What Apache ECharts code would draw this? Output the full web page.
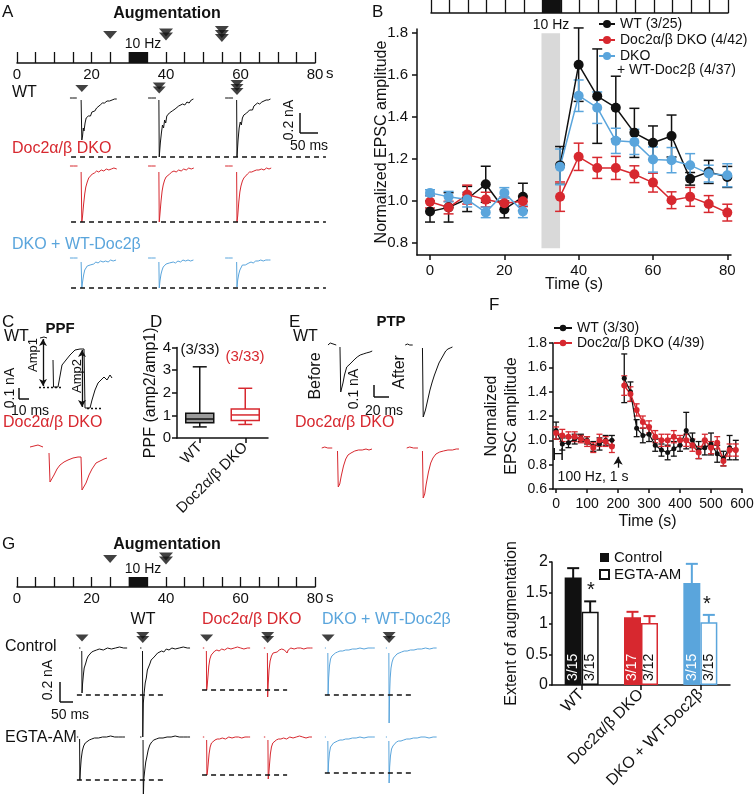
<!DOCTYPE html>
<html><head><meta charset="utf-8">
<script src="https://cdn.jsdelivr.net/npm/echarts@6/dist/echarts.min.js"></script>
<style>html,body{margin:0;padding:0;background:#fff}#c{width:755px;height:794px}</style>
</head><body><div id="c"></div>
<script>
// ================= DATA =================
// Panel B
const bTimes = [0,5,10,15,20,25,30,35,40,45,50,55,60,65,70,75,80];
const bWT     = [0.95,0.97,1.01,1.08,0.96,1.02,null,1.17,1.65,1.50,1.445,1.325,1.278,1.31,1.106,1.139,1.115];
const bWTerr  = [0.05,0.07,0.06,0.086,0.04,0.065,null,0.09,0.175,0.225,0.15,0.117,0.08,0.1,0.03,0.055,0.05];
const bDKO    = [0.997,0.969,1.031,1.007,0.99,0.999,null,1.021,1.211,1.158,1.158,1.128,1.088,1.004,1.02,0.986,0.945];
const bDKOerr = [0.03,0.03,0.045,0.035,0.03,0.025,null,0.07,0.065,0.05,0.055,0.04,0.045,0.04,0.045,0.04,0.04];
const bRes    = [1.039,1.021,1.007,0.946,1.039,0.951,null,1.163,1.502,1.445,1.287,1.282,1.198,1.195,1.171,1.131,1.123];
const bResErr = [0.015,0.025,0.035,0.025,0.025,0.03,null,0.085,0.075,0.075,0.06,0.06,0.06,0.06,0.055,0.04,0.055];
const bXTicks = [0,20,40,60,80];
const bYTicks = [0.8,1.0,1.2,1.4,1.6,1.8];
// Panel F
const fTimes = [0,20,40,60,80,100,120,140,160,180,200,220,240,260,280,300,320,340,360,380,400,420,440,460,480,500,520,540,560,580];
const fWT     = [1.08,0.97,0.98,1.01,1.02,1.0,0.95,0.97,1.0,1.0,null,1.51,1.40,1.10,1.04,1.05,0.96,0.92,0.90,0.93,0.96,1.08,1.0,0.92,0.94,0.97,0.89,0.85,0.94,0.92];
const fWTerr  = [0.07,0.05,0.04,0.04,0.03,0.03,0.04,0.05,0.04,0.04,null,0.2,0.08,0.07,0.06,0.06,0.05,0.05,0.06,0.06,0.05,0.15,0.06,0.07,0.06,0.09,0.07,0.06,0.1,0.08];
const fDKO    = [1.06,1.04,1.03,1.03,1.01,0.99,0.94,1.0,0.99,0.95,null,1.45,1.38,1.25,1.15,1.11,1.03,1.0,1.0,1.03,1.0,1.0,0.96,0.9,1.0,0.94,0.98,0.83,0.92,0.92];
const fDKOerr = [0.05,0.05,0.04,0.04,0.03,0.04,0.04,0.05,0.04,0.05,null,0.08,0.06,0.05,0.05,0.05,0.05,0.05,0.05,0.05,0.04,0.05,0.05,0.05,0.05,0.05,0.05,0.04,0.05,0.05];
const fXTicks = [0,100,200,300,400,500,600];
// Panel D
const dCats = ['WT','Doc2α/β DKO'];
const dBox  = [[0.49,0.67,0.84,1.10,3.15],[0.60,0.77,1.02,1.28,2.20]];
const dN    = ['(3/33)','(3/33)'];
// Panel H
const hCats = ['WT','Doc2α/β DKO','DKO + WT-Doc2β'];
const hControl = [1.75,1.10,1.66];
const hControlErr = [0.15,0.09,0.31];
const hEGTA = [1.19,1.01,1.02];
const hEGTAerr = [0.17,0.11,0.12];
const hControlN = ['3/15','3/17','3/15'];
const hEGTAN = ['3/15','3/12','3/15'];
// Stimulus timelines
const stimTrain = [30,35];
const augMarksA = [[25,1],[40,2],[55,3]];
const augMarksG = [[25,1],[40,2]];
// Traces: [time ms, current nA relative to baseline]; '-' = blanked artefact
const aWT1 = [[0,0],[4,0.01],[8,0],[13,0.01],[19,0],[22,'-'],[31,-0.02],[33,-0.42],[35,-0.38],[37,-0.3],[39,-0.33],[42,-0.25],[45,-0.2],[48,-0.22],[51,-0.18],[54,-0.16],[57,-0.18],[61,-0.14],[65,-0.12],[69,-0.13],[74,-0.1],[79,-0.08],[84,-0.07],[90,-0.05],[96,-0.05],[103,-0.03],[110,-0.03],[117,-0.02],[124,-0.01],[130,-0.01]];
const aWT2 = [[0,0],[5,0.01],[10,0],[15,0.01],[22,0],[24,'-'],[30,-0.02],[31,-0.59],[34,-0.45],[37,-0.35],[40,-0.27],[43,-0.3],[46,-0.22],[49,-0.25],[52,-0.18],[55,-0.2],[59,-0.15],[63,-0.17],[67,-0.13],[71,-0.14],[75,-0.11],[80,-0.12],[85,-0.08],[90,-0.09],[96,-0.06],[102,-0.07],[108,-0.04],[114,-0.05],[120,-0.02],[126,-0.01]];
const aWT3 = [[0,0],[5,0.01],[10,0],[15,0.01],[22,0],[25,'-'],[32,-0.02],[33,-0.59],[36,-0.42],[39,-0.3],[42,-0.24],[45,-0.27],[48,-0.2],[52,-0.17],[56,-0.19],[60,-0.15],[64,-0.16],[68,-0.12],[72,-0.1],[76,-0.12],[80,-0.08],[85,-0.07],[90,-0.05],[96,-0.06],[102,-0.04],[108,-0.03],[114,-0.02],[120,-0.02],[126,-0.01]];
const aDKO1 = [[0,0],[5,0.01],[10,0],[15,0.01],[21,0],[24,'-'],[31,-0.06],[33,-0.56],[35,-0.5],[38,-0.38],[41,-0.28],[44,-0.21],[48,-0.16],[52,-0.12],[57,-0.1],[62,-0.08],[68,-0.07],[74,-0.05],[80,-0.06],[87,-0.04],[94,-0.05],[101,-0.03],[108,-0.04],[115,-0.03],[122,-0.02],[130,-0.03]];
const aDKO2 = [[0,0],[5,0.01],[10,0],[15,0.01],[21,0],[24,'-'],[30,-0.06],[31,-0.56],[33,-0.48],[36,-0.35],[39,-0.25],[42,-0.19],[46,-0.14],[50,-0.11],[55,-0.09],[60,-0.08],[66,-0.06],[72,-0.05],[78,-0.06],[85,-0.04],[92,-0.05],[99,-0.03],[106,-0.04],[113,-0.02],[120,-0.03],[127,-0.02]];
const aDKO3 = [[0,0],[5,0.01],[10,0],[15,0.01],[21,0],[24,'-'],[32,-0.06],[33,-0.56],[35,-0.5],[38,-0.36],[41,-0.26],[44,-0.2],[48,-0.15],[52,-0.12],[57,-0.1],[62,-0.08],[68,-0.06],[74,-0.06],[80,-0.05],[87,-0.04],[94,-0.04],[101,-0.03],[108,-0.04],[115,-0.02],[122,-0.03],[128,-0.02]];
const aRes1 = [[0,0],[5,0.01],[10,0],[15,0.01],[21,0],[24,'-'],[31,-0.04],[33,-0.30],[35,-0.24],[38,-0.17],[41,-0.12],[44,-0.1],[48,-0.08],[52,-0.06],[56,-0.07],[61,-0.05],[66,-0.06],[72,-0.04],[78,-0.05],[85,-0.03],[92,-0.04],[99,-0.03],[106,-0.04],[113,-0.02],[120,-0.03],[128,-0.02]];
const aRes2 = [[0,0],[5,0.01],[10,0],[15,0.01],[21,0],[24,'-'],[30,-0.04],[31,-0.30],[33,-0.23],[36,-0.16],[39,-0.12],[42,-0.09],[46,-0.08],[50,-0.06],[54,-0.07],[59,-0.05],[64,-0.06],[70,-0.04],[76,-0.05],[83,-0.03],[90,-0.04],[97,-0.02],[104,-0.03],[111,-0.02],[118,-0.03],[126,-0.02]];
const aRes3 = [[0,0],[5,0.01],[10,0],[15,0.01],[21,0],[24,'-'],[32,-0.04],[33,-0.29],[35,-0.22],[38,-0.16],[41,-0.12],[44,-0.1],[48,-0.07],[52,-0.06],[56,-0.07],[61,-0.05],[66,-0.05],[72,-0.04],[78,-0.05],[85,-0.03],[92,-0.03],[99,-0.02],[106,-0.03],[113,-0.02],[120,-0.02],[126,-0.02]];
const cWT  = [[4,0],[8,0.01],[11,0],[13,'-'],[17,-0.22],[17.5,-0.49],[22,-0.49],[24,-0.38],[26,-0.27],[30,-0.22],[34,-0.17],[39,-0.12],[44,-0.11],[48,-0.11],[49,-0.7],[54,-0.7],[56,-0.62],[59,-0.52],[62,-0.45],[65,-0.42],[68,-0.39],[71,-0.42],[74,-0.37],[76,-0.4]];
const cDKO = [[2,0],[6,0.01],[10,0.02],[15,0],[17,'-'],[21,-0.06],[22,-0.35],[24,-0.34],[26,-0.28],[29,-0.22],[32,-0.18],[36,-0.15],[40,-0.13],[45,-0.11],[50,-0.1],[53,-0.1],[54,-0.43],[56,-0.42],[58,-0.36],[61,-0.28],[64,-0.22],[68,-0.16],[72,-0.14],[76,-0.12],[79,-0.11]];
const eWTb  = [[4,0],[7,0.02],[9,0],[15,0],[17,'-'],[20,-0.02],[21,-0.47],[24,-0.38],[26,-0.3],[29,-0.22],[32,-0.2],[36,-0.17],[40,-0.14],[43,-0.12],[47,-0.1],[51,-0.09],[55,-0.08],[60,-0.07],[63,-0.06]];
const eWTa  = [[7,0],[10,0.01],[13,0],[17,0],[20,'-'],[30,-0.03],[31,-0.72],[34,-0.65],[37,-0.55],[40,-0.45],[43,-0.37],[46,-0.3],[49,-0.24],[52,-0.18],[55,-0.14],[58,-0.1],[61,-0.06],[64,-0.04],[67,-0.03],[70,-0.02]];
const eDKOb = [[5,0],[9,0.01],[13,0],[19,0],[21,'-'],[26,-0.03],[27,-0.39],[29,-0.36],[31,-0.28],[34,-0.18],[37,-0.11],[40,-0.07],[44,-0.05],[49,-0.03],[54,-0.02],[59,-0.02],[64,-0.01],[68,-0.02],[72,-0.01]];
const eDKOa = [[9,0],[13,0.01],[18,0],[24,0],[26,'-'],[30,-0.03],[31,-0.50],[33,-0.46],[35,-0.36],[38,-0.24],[41,-0.15],[44,-0.1],[48,-0.06],[53,-0.04],[58,-0.03],[64,-0.02],[70,-0.02],[75,-0.01],[80,-0.01]];
const gWTc1 = [[0,0],[5,0],[7,'-'],[10,-0.03],[11,-0.45],[13,-0.36],[16,-0.27],[19,-0.2],[22,-0.22],[25,-0.15],[29,-0.11],[34,-0.08],[40,-0.06],[47,-0.04],[55,-0.03],[65,-0.02],[75,-0.01],[90,-0.02],[105,0],[120,-0.01],[135,0],[150,0.01],[165,0],[178,0]];
const gWTc2 = [[0,0],[5,0],[7,'-'],[9,-0.03],[10,-0.89],[12,-0.55],[15,-0.45],[19,-0.35],[23,-0.3],[27,-0.22],[31,-0.2],[36,-0.16],[41,-0.12],[46,-0.14],[52,-0.09],[58,-0.1],[65,-0.05],[72,-0.07],[80,-0.03],[88,-0.04],[97,-0.01],[107,-0.02],[118,0],[130,-0.01],[145,0],[160,0.01],[175,0],[185,0]];
const gWTe1 = [[0,0],[5,0],[7,'-'],[10,-0.02],[11,-0.43],[13,-0.33],[16,-0.22],[20,-0.14],[25,-0.09],[31,-0.06],[38,-0.04],[46,-0.03],[55,-0.02],[65,-0.01],[80,-0.01],[95,0],[110,0],[125,0.01],[140,0],[155,0],[170,0],[178,0]];
const gWTe2 = [[0,0],[5,0],[7,'-'],[11,-0.03],[12,-0.62],[14,-0.42],[17,-0.34],[21,-0.25],[25,-0.2],[30,-0.13],[36,-0.08],[43,-0.05],[51,-0.03],[60,-0.02],[70,-0.01],[85,-0.01],[100,0],[115,0],[130,0.01],[145,0],[160,0],[175,0],[185,0]];
const gDKOc1 = [[0,0],[5,0],[7,'-'],[13,-0.03],[14,-0.42],[16,-0.38],[19,-0.28],[22,-0.18],[26,-0.11],[31,-0.07],[37,-0.05],[44,-0.03],[52,-0.02],[60,-0.03],[70,-0.01],[80,-0.02],[92,0],[104,-0.01],[116,0],[128,0.01],[140,0],[152,-0.01],[165,0],[175,0]];
const gDKOc2 = [[0,0],[5,0],[7,'-'],[13,-0.05],[14,-0.49],[16,-0.36],[19,-0.22],[23,-0.13],[28,-0.08],[34,-0.05],[41,-0.03],[49,-0.04],[57,-0.02],[66,-0.01],[76,-0.02],[86,-0.05],[90,-0.02],[100,0],[112,-0.01],[124,0],[136,0],[148,-0.01],[160,0],[172,0],[180,0]];
const gDKOe1 = [[0,0],[5,0],[7,'-'],[14,-0.03],[15,-0.38],[17,-0.35],[20,-0.26],[23,-0.17],[27,-0.1],[32,-0.06],[38,-0.04],[45,-0.03],[53,-0.02],[62,-0.02],[72,-0.01],[84,-0.02],[96,0],[108,-0.01],[120,0],[132,0],[144,-0.01],[156,0],[168,0],[175,0]];
const gDKOe2 = [[0,0],[5,0],[7,'-'],[15,-0.03],[16,-0.42],[18,-0.38],[21,-0.27],[24,-0.17],[28,-0.1],[33,-0.06],[39,-0.04],[46,-0.03],[54,-0.02],[63,-0.02],[73,-0.01],[84,-0.02],[96,0],[108,-0.01],[120,0],[132,0.01],[144,0],[156,-0.01],[168,0],[178,0]];
const gResc1 = [[0,0],[4,0],[6,'-'],[11,-0.05],[12,-0.47],[14,-0.3],[17,-0.18],[21,-0.11],[26,-0.08],[32,-0.06],[39,-0.05],[47,-0.04],[56,-0.03],[66,-0.03],[77,-0.02],[89,-0.02],[102,-0.01],[116,-0.01],[130,0],[145,-0.01],[160,0],[175,0],[185,0]];
const gResc2 = [[0,0],[4,0],[6,'-'],[11,-0.05],[12,-0.75],[14,-0.45],[16,-0.3],[19,-0.2],[23,-0.14],[28,-0.1],[34,-0.08],[41,-0.06],[49,-0.05],[58,-0.04],[68,-0.03],[79,-0.03],[91,-0.02],[104,-0.02],[118,-0.01],[132,-0.01],[147,0],[162,-0.01],[177,0],[188,0]];
const gRese1 = [[0,0],[4,0],[6,'-'],[11,-0.04],[12,-0.36],[14,-0.25],[17,-0.16],[21,-0.1],[26,-0.08],[32,-0.06],[39,-0.05],[47,-0.04],[56,-0.03],[66,-0.03],[77,-0.02],[89,-0.02],[102,-0.01],[116,-0.01],[130,0],[145,-0.01],[160,0],[175,0],[185,0]];
const gRese2 = [[0,0],[4,0],[6,'-'],[11,-0.04],[12,-0.46],[14,-0.3],[17,-0.19],[21,-0.12],[26,-0.09],[32,-0.07],[39,-0.05],[47,-0.04],[56,-0.04],[66,-0.03],[77,-0.02],[89,-0.02],[102,-0.01],[116,-0.01],[130,0],[145,0],[160,-0.01],[175,0],[188,0]];

// ================= STYLE / LAYOUT =================
const RED='#d7282f', BLUE='#5aa5dc', BLK='#111111';
const FONT='"Liberation Sans", Arial, Helvetica, sans-serif';
const grid=[], xAxis=[], yAxis=[], series=[], graphic=[], legend=[];

function addAxes(g, xa, ya){
  grid.push(Object.assign({outerBoundsMode:'none', containLabel:false}, g));
  const i = grid.length-1;
  xAxis.push(Object.assign({gridIndex:i}, xa));
  yAxis.push(Object.assign({gridIndex:i}, ya));
  return i;
}
function hiddenAxes(g, xr, yr){
  return addAxes(g, {type:'value', min:xr[0], max:xr[1], show:false}, {type:'value', min:yr[0], max:yr[1], show:false});
}
const axLine = {show:true, onZero:false, lineStyle:{color:BLK, width:1.5}};
const axTick = {show:true, length:5, lineStyle:{color:BLK, width:1.5}};
function txt(x,y,text,o){ o=o||{}; graphic.push({type:'text', x, y, rotation:o.rot||0, silent:true, z:50,
  style:{text, fill:o.color||BLK, fontSize:o.size||16, fontFamily:FONT, fontWeight:o.bold?'bold':'normal', align:o.align||'left', verticalAlign:o.va||'middle'}}); }
function ln(x1,y1,x2,y2,o){ o=o||{}; graphic.push({type:'line', silent:true, z:50, shape:{x1,y1,x2,y2}, style:{stroke:o.color||BLK, lineWidth:o.w||1.5, lineDash:o.dash||null}}); }

function arrowPoints(marks, baseY, step, drop){
  const pts=[];
  marks.forEach(([t,n])=>{ const b = baseY - (n-1)*drop; for(let k=0;k<n;k++) pts.push([t, b + k*step]); });
  return pts;
}
function arrowSeries(gi, pts, size){
  return {type:'scatter', xAxisIndex:gi, yAxisIndex:gi, symbol:'triangle', symbolRotate:180, symbolSize:size||[13,7],
    itemStyle:{color:BLK}, silent:true, z:5, data:pts};
}

// ---- stimulus timelines ----
function addTimeline(left, baseY, width, h, tickLen, marks, showLabels){
  const gi = addAxes({left, top:baseY-h, width, height:h},
    {type:'value', min:0, max:80, interval:5,
     axisLine:{show:true, lineStyle:{color:BLK, width:1.5}},
     axisTick:{show:true, inside:true, length:tickLen, lineStyle:{color:BLK, width:1.3}},
     axisLabel:{show:showLabels, margin:4, fontSize:15, color:BLK, fontFamily:FONT, formatter:v=> (v%20===0)? String(v):''},
     splitLine:{show:false}},
    {type:'value', min:0, max:h, show:false});
  series.push({type:'scatter', xAxisIndex:gi, yAxisIndex:gi, symbol:'triangle', symbolRotate:180, symbolSize:[14,8],
    itemStyle:{color:BLK}, silent:true, data: arrowPoints(marks, 28, 4, 1.5),
    markArea:{silent:true, itemStyle:{color:BLK}, data:[[{xAxis:stimTrain[0], yAxis:0},{xAxis:stimTrain[1], yAxis:tickLen}]]}});
  return gi;
}
addTimeline(17, 63, 298, 45, 11, augMarksA, true);
addTimeline(431, 13, 297, 16, 15, [], false);
addTimeline(17, 587, 298, 40, 10, augMarksG, true);

// ---- trace panels ----
function dashSeries(gi, t1, t2, y){
  return {type:'line', xAxisIndex:gi, yAxisIndex:gi, data:[], silent:true,
    markLine:{silent:true, symbol:['none','none'], label:{show:false}, lineStyle:{type:[5,4], color:BLK, width:1.5}, data:[[{coord:[t1,y]},{coord:[t2,y]}]]}};
}
function traceSeries(gi, tr, off, color){
  return {type:'line', xAxisIndex:gi, yAxisIndex:gi, silent:true, showSymbol:false, symbol:'none', connectNulls:false,
    lineStyle:{width:1, color}, itemStyle:{color},
    data: tr.map(p=>[p[0]+off, p[1]])};
}
const traceLayout = [
  // A: 0.36 px/ms, 100 px/nA
  {g:{left:66, top:80, width:262, height:90}, x:[0,727.8], y:[-0.72,0.18], color:BLK, tr:[[aWT1,11],[aWT2,228],[aWT3,442]], dash:[14,722,-0.59], marks:[[44,1],[259,2],[475,3]], mY:0.095},
  {g:{left:66, top:150, width:262, height:85}, x:[0,727.8], y:[-0.69,0.16], color:RED, tr:[[aDKO1,11],[aDKO2,228],[aDKO3,442]], dash:[14,722,-0.56]},
  {g:{left:66, top:245, width:262, height:55}, x:[0,727.8], y:[-0.42,0.13], color:BLUE, tr:[[aRes1,11],[aRes2,228],[aRes3,442]], dash:[14,722,-0.30]},
  // C: 1 px/ms
  {g:{left:36, top:325, width:84, height:95}, x:[0,84], y:[-0.82,0.13], color:BLK, tr:[[cWT,0]], amps:true},
  {g:{left:28, top:440, width:90, height:60}, x:[0,90], y:[-0.53,0.07], color:RED, tr:[[cDKO,0]]},
  // E: 0.75 px/ms
  {g:{left:318, top:335, width:140, height:90}, x:[0,186.7], y:[-0.80,0.10], color:BLK, tr:[[eWTb,9.3],[eWTa,109.3]]},
  {g:{left:318, top:438, width:140, height:80}, x:[0,186.7], y:[-0.70,0.10], color:RED, tr:[[eDKOb,0],[eDKOa,109.3]]},
  // G: 0.27 px/ms
  {g:{left:75, top:625, width:120, height:120}, x:[0,444.4], y:[-0.97,0.23], color:BLK, tr:[[gWTc1,15],[gWTc2,241]], dash:[7,326,-0.47], marks:[[26,1],[251,2]], mY:0.10},
  {g:{left:75, top:715, width:120, height:79}, x:[0,444.4], y:[-0.57,0.22], color:BLK, tr:[[gWTe1,7],[gWTe2,241]], dash:[7,326,-0.43]},
  {g:{left:198, top:625, width:120, height:120}, x:[0,444.4], y:[-0.97,0.23], color:RED, tr:[[gDKOc1,18],[gDKOc2,244]], dash:[15,330,-0.42], marks:[[32,1],[258,2]], mY:0.10},
  {g:{left:198, top:715, width:120, height:79}, x:[0,444.4], y:[-0.57,0.22], color:RED, tr:[[gDKOe1,18],[gDKOe2,244]], dash:[15,330,-0.38]},
  {g:{left:320, top:625, width:125, height:120}, x:[0,463], y:[-0.97,0.23], color:BLUE, tr:[[gResc1,18],[gResc2,244]], dash:[18,341,-0.47], marks:[[30,1],[256,2]], mY:0.10},
  {g:{left:320, top:715, width:125, height:79}, x:[0,463], y:[-0.57,0.22], color:BLUE, tr:[[gRese1,18],[gRese2,244]], dash:[18,341,-0.36]}
];
traceLayout.forEach(L=>{
  const gi = hiddenAxes(L.g, L.x, L.y);
  if (L.dash) series.push(dashSeries(gi, L.dash[0], L.dash[1], L.dash[2]));
  L.tr.forEach(([tr,off])=> series.push(traceSeries(gi, tr, off, L.color)));
  if (L.marks) series.push(arrowSeries(gi, arrowPoints(L.marks, L.mY, 0.04, 0.015)));
  if (L.amps) {
    series.push({type:'line', xAxisIndex:gi, yAxisIndex:gi, data:[], silent:true,
      markLine:{silent:true, label:{show:false}, symbol:['arrow','arrow'], symbolSize:[6,7], lineStyle:{type:'solid', color:BLK, width:1.3},
        data:[[{coord:[7,-0.01]},{coord:[7,-0.48]}],[{coord:[46,-0.12]},{coord:[46,-0.69]}]]}});
    series.push({type:'line', xAxisIndex:gi, yAxisIndex:gi, data:[], silent:true,
      markLine:{silent:true, label:{show:false}, symbol:['none','none'], lineStyle:{type:[2,2], color:BLK, width:1.3},
        data:[[{coord:[3,-0.49]},{coord:[26,-0.49]}],[{coord:[51,-0.70]},{coord:[67,-0.70]}]]}});
  }
});

// ---- error bar helper ----
function errSeries(gi, xs, ys, es, color, cap, lw, xOff){
  const data=[];
  xs.forEach((x,i)=>{ if(ys[i]==null) return; data.push([x, ys[i]-es[i], ys[i]+es[i]]); });
  return {type:'custom', xAxisIndex:gi, yAxisIndex:gi, silent:true, data, encode:{x:0, y:[1,2]},
    renderItem:(p, api)=>{
      const lo=api.coord([api.value(0), api.value(1)]), hi=api.coord([api.value(0), api.value(2)]);
      const x=lo[0]+(xOff||0), st={stroke:color, lineWidth:lw};
      return {type:'group', children:[
        {type:'line', shape:{x1:x,y1:lo[1],x2:x,y2:hi[1]}, style:st},
        {type:'line', shape:{x1:x-cap/2,y1:hi[1],x2:x+cap/2,y2:hi[1]}, style:st},
        {type:'line', shape:{x1:x-cap/2,y1:lo[1],x2:x+cap/2,y2:lo[1]}, style:st}]};
    }};
}
const toLine = (xs, ys)=> xs.map((x,i)=>[x, ys[i]==null?'-':ys[i]]);

// ---- Panel B ----
const gB = addAxes({left:417, top:29, width:314, height:226},
  {type:'value', min:-3.5, max:81, axisLine:axLine, axisTick:Object.assign({customValues:bXTicks}, axTick),
   axisLabel:{customValues:bXTicks, fontSize:15, color:BLK, margin:8, fontFamily:FONT}, splitLine:{show:false},
   name:'Time (s)', nameLocation:'middle', nameGap:22, nameMoveOverlap:false, nameTextStyle:{fontSize:16, color:BLK, fontFamily:FONT}},
  {type:'value', min:0.743, max:1.82, axisLine:axLine, axisTick:Object.assign({customValues:bYTicks}, axTick),
   axisLabel:{customValues:bYTicks, fontSize:15, color:BLK, margin:9, fontFamily:FONT, formatter:v=>v.toFixed(1)}, splitLine:{show:false},
   name:'Normalized EPSC amplitude', nameLocation:'middle', nameGap:27, nameMoveOverlap:false, nameTextStyle:{fontSize:16, color:BLK, fontFamily:FONT}});
series.push(Object.assign(errSeries(gB, bTimes, bWT, bWTerr, BLK, 10, 1.5), {
  markArea:{silent:true, itemStyle:{color:'#d9d9d9'}, data:[[{xAxis:stimTrain[0], yAxis:0.775},{xAxis:stimTrain[1], yAxis:1.8}]]}}));
series.push({type:'line', name:'WT (3/25)', xAxisIndex:gB, yAxisIndex:gB, data:toLine(bTimes,bWT), symbol:'circle', symbolSize:10, lineStyle:{width:1.5, color:BLK}, itemStyle:{color:BLK}});
series.push(errSeries(gB, bTimes, bDKO, bDKOerr, RED, 10, 1.5));
series.push({type:'line', name:'Doc2α/β DKO (4/42)', xAxisIndex:gB, yAxisIndex:gB, data:toLine(bTimes,bDKO), symbol:'circle', symbolSize:10, lineStyle:{width:1.5, color:RED}, itemStyle:{color:RED}});
series.push(errSeries(gB, bTimes, bRes, bResErr, BLUE, 10, 1.5));
series.push({type:'line', name:'DKO', xAxisIndex:gB, yAxisIndex:gB, data:toLine(bTimes,bRes), symbol:'circle', symbolSize:10, lineStyle:{width:1.5, color:BLUE}, itemStyle:{color:BLUE}});
legend.push({left:598, top:17, padding:0, orient:'vertical', itemWidth:16, itemHeight:10, itemGap:2, selectedMode:false,
  textStyle:{fontSize:14, color:BLK, fontFamily:FONT}, data:['WT (3/25)','Doc2α/β DKO (4/42)','DKO']});

// ---- Panel F ----
const gF = addAxes({left:553, top:343, width:189, height:146},
  {type:'value', min:-10, max:600, axisLine:axLine, axisTick:Object.assign({customValues:fXTicks}, axTick, {length:4}),
   axisLabel:{customValues:fXTicks, fontSize:14, color:BLK, margin:8, fontFamily:FONT}, splitLine:{show:false},
   name:'Time (s)', nameLocation:'middle', nameGap:25, nameMoveOverlap:false, nameTextStyle:{fontSize:16, color:BLK, fontFamily:FONT}},
  {type:'value', min:0.6, max:1.8, interval:0.2, axisLine:axLine, axisTick:Object.assign({}, axTick, {length:4}),
   axisLabel:{fontSize:14, color:BLK, margin:6, fontFamily:FONT, formatter:v=>v.toFixed(1)}, splitLine:{show:false},
   name:'Normalized\nEPSC amplitude', nameLocation:'middle', nameGap:31, nameMoveOverlap:false, nameTextStyle:{fontSize:16, lineHeight:20, color:BLK, fontFamily:FONT}});
series.push(Object.assign(errSeries(gF, fTimes, fWT, fWTerr, BLK, 6, 1.3), {
  markLine:{silent:true, label:{show:false}, symbol:['none','arrow'], symbolSize:[7,8], lineStyle:{type:'solid', color:BLK, width:1.3},
    data:[[{coord:[200,0.775]},{coord:[200,0.865]}]]}}));
series.push({type:'line', name:'WT (3/30)', xAxisIndex:gF, yAxisIndex:gF, data:toLine(fTimes,fWT), symbol:'circle', symbolSize:5, lineStyle:{width:1.2, color:BLK}, itemStyle:{color:BLK}});
series.push(errSeries(gF, fTimes, fDKO, fDKOerr, RED, 6, 1.3));
series.push({type:'line', name:'Doc2α/β DKO (4/39)', xAxisIndex:gF, yAxisIndex:gF, data:toLine(fTimes,fDKO), symbol:'circle', symbolSize:6, lineStyle:{width:1.5, color:RED}, itemStyle:{color:RED}});
legend.push({left:553, top:321, padding:0, orient:'vertical', itemWidth:18, itemHeight:8, itemGap:1, selectedMode:false,
  textStyle:{fontSize:14, color:BLK, fontFamily:FONT}, data:['WT (3/30)','Doc2α/β DKO (4/39)']});

// ---- Panel D ----
const gD = addAxes({left:177, top:347.6, width:91, height:90.4},
  {type:'category', data:dCats, axisLine:axLine, axisTick:Object.assign({alignWithLabel:true}, axTick),
   axisLabel:{rotate:45, interval:0, fontSize:15, color:BLK, margin:7, fontFamily:FONT}},
  {type:'value', min:0, max:4, interval:1, axisLine:axLine, axisTick:axTick,
   axisLabel:{fontSize:15, color:BLK, margin:6, fontFamily:FONT}, splitLine:{show:false},
   name:'PPF (amp2/amp1)', nameLocation:'middle', nameGap:18, nameMoveOverlap:false, nameTextStyle:{fontSize:16, color:BLK, fontFamily:FONT}});
const dStyle = [{fill:'#9b9b9b', stroke:BLK}, {fill:'#ffffff', stroke:RED}];
series.push({type:'custom', xAxisIndex:gD, yAxisIndex:gD, silent:true,
  data: dBox.map((b,i)=>[i].concat(b)), encode:{x:0, y:[1,2,3,4,5]},
  renderItem:(p, api)=>{
    const i=api.value(0), c=(v)=>api.coord([i, v]);
    const mn=c(api.value(1)), q1=c(api.value(2)), md=c(api.value(3)), q3=c(api.value(4)), mx=c(api.value(5));
    const x=mn[0], w=28, cw=14, s=dStyle[p.dataIndex];
    const st={stroke:s.stroke, lineWidth:1.5, fill:null};
    return {type:'group', children:[
      {type:'line', shape:{x1:x,y1:mx[1],x2:x,y2:q3[1]}, style:st},
      {type:'line', shape:{x1:x,y1:q1[1],x2:x,y2:mn[1]}, style:st},
      {type:'line', shape:{x1:x-cw/2,y1:mx[1],x2:x+cw/2,y2:mx[1]}, style:st},
      {type:'line', shape:{x1:x-cw/2,y1:mn[1],x2:x+cw/2,y2:mn[1]}, style:st},
      {type:'rect', shape:{x:x-w/2, y:q3[1], width:w, height:q1[1]-q3[1]}, style:{fill:s.fill, stroke:s.stroke, lineWidth:1.5}},
      {type:'line', shape:{x1:x-w/2,y1:md[1],x2:x+w/2,y2:md[1]}, style:st}]};
  }});

// ---- Panel H ----
const gH = addAxes({left:552, top:562, width:178, height:123},
  {type:'category', data:hCats, axisLine:axLine, axisTick:Object.assign({alignWithLabel:true}, axTick),
   axisLabel:{rotate:45, interval:0, fontSize:16, color:BLK, margin:7, fontFamily:FONT}},
  {type:'value', min:0, max:2, interval:0.5, axisLine:axLine, axisTick:Object.assign({}, axTick, {length:3}),
   axisLabel:{fontSize:16, color:BLK, margin:4, fontFamily:FONT}, splitLine:{show:false},
   name:'Extent of augmentation', nameLocation:'middle', nameGap:32, nameMoveOverlap:false, nameTextStyle:{fontSize:16, color:BLK, fontFamily:FONT}});
const hCol = [BLK, RED, BLUE];
series.push({type:'bar', name:'Control', xAxisIndex:gH, yAxisIndex:gH, barWidth:17, barGap:'0%',
  itemStyle:{color:BLK},
  label:{show:true, position:'insideBottom', rotate:90, align:'left', verticalAlign:'middle', distance:4, fontSize:14, color:'#fff', fontFamily:FONT,
    formatter:p=>hControlN[p.dataIndex]},
  data: hControl.map((v,i)=>({value:v, itemStyle:{color:hCol[i]}}))});
series.push({type:'bar', name:'EGTA-AM', xAxisIndex:gH, yAxisIndex:gH, barWidth:17, barGap:'0%',
  itemStyle:{color:'#fff', borderColor:BLK, borderWidth:1.5},
  label:{show:true, position:'insideBottom', rotate:90, align:'left', verticalAlign:'middle', distance:4, fontSize:14, color:BLK, fontFamily:FONT,
    formatter:p=>hEGTAN[p.dataIndex]},
  data: hEGTA.map((v,i)=>({value:v, itemStyle:{color:'#fff', borderColor:hCol[i], borderWidth:1.5}}))});
hCats.forEach((c,i)=>{
  series.push(errSeries(gH, [i], [hControl[i]], [hControlErr[i]], hCol[i], 12, 2, -8.5));
  series.push(errSeries(gH, [i], [hEGTA[i]], [hEGTAerr[i]], hCol[i], 12, 2, 8.5));
});
legend.push({left:599, top:550, padding:0, orient:'vertical', itemWidth:9, itemHeight:9, itemGap:2, icon:'rect', selectedMode:false,
  textStyle:{fontSize:15, color:BLK, fontFamily:FONT}, data:['Control','EGTA-AM']});

// ================= TEXT ANNOTATIONS =================
txt(2,12,'A',{size:17}); txt(372,12,'B',{size:17}); txt(2,322,'C',{size:17}); txt(150,322,'D',{size:17});
txt(289,322,'E',{size:17}); txt(489,305,'F',{size:17}); txt(2,544,'G',{size:17}); txt(552,455,'H',{size:17});
// A
txt(167,14,'Augmentation',{bold:true, align:'center'});
txt(143,44,'10 Hz',{size:14, align:'center'});
txt(326,74,'s',{size:15});
txt(12,93,'WT'); txt(12,149,'Doc2α/β DKO',{color:RED}); txt(12,245,'DKO + WT-Doc2β',{color:BLUE});
ln(300,113,300,133); ln(300,133,318,133);
txt(289,120,'0.2 nA',{size:14, rot:Math.PI/2, align:'center'}); txt(309,146,'50 ms',{size:14, align:'center'});
// B
txt(551,25,'10 Hz',{size:14, align:'center'});
txt(617,70,'+ WT-Doc2β (4/37)',{size:14});
// C
txt(4,337,'WT'); txt(60,329,'PPF',{bold:true, size:15, align:'center'});
txt(33,355,'Amp1',{size:13, rot:Math.PI/2, align:'center'}); txt(77,376,'Amp2',{size:13, rot:Math.PI/2, align:'center'});
ln(19,388,19,399); ln(19,399,29,399);
txt(10,388,'0.1 nA',{size:14, rot:Math.PI/2, align:'center'}); txt(30,411,'10 ms',{size:14, align:'center'});
txt(3,423,'Doc2α/β DKO',{color:RED});
// D
txt(200,350,dN[0],{size:15, align:'center'}); txt(245,357,dN[1],{size:15, align:'center', color:RED});
// E
txt(293,337,'WT'); txt(391,322,'PTP',{bold:true, size:15, align:'center'});
txt(316,376,'Before',{rot:Math.PI/2, align:'center'}); txt(400,372,'After',{rot:Math.PI/2, align:'center'});
ln(374,385,374,397); ln(374,397,389,397);
txt(354,389,'0.1 nA',{size:14, rot:Math.PI/2, align:'center'}); txt(384,411,'20 ms',{size:14, align:'center'});
txt(295,423,'Doc2α/β DKO',{color:RED});
// F
txt(593,477,'100 Hz, 1 s',{size:14, align:'center'});
// G
txt(167,545,'Augmentation',{bold:true, align:'center'});
txt(143,569,'10 Hz',{size:14, align:'center'});
txt(326,598,'s',{size:15});
txt(143,620,'WT',{align:'center'}); txt(202,620,'Doc2α/β DKO',{color:RED}); txt(322,620,'DKO + WT-Doc2β',{color:BLUE});
txt(5,647,'Control'); txt(5,738,'EGTA-AM');
ln(60,682,60,702); ln(60,702,73,702);
txt(48,680,'0.2 nA',{size:14, rot:Math.PI/2, align:'center'}); txt(70,715,'50 ms',{size:14, align:'center'});
// H
txt(591,590,'*',{size:20, align:'center'}); txt(707,604,'*',{size:20, align:'center'});

const chart = echarts.init(document.getElementById('c'), null, {renderer:'canvas'});
chart.setOption({animation:false, backgroundColor:'#fff', textStyle:{fontFamily:FONT},
  grid, xAxis, yAxis, series, legend, graphic});
</script></body></html>
